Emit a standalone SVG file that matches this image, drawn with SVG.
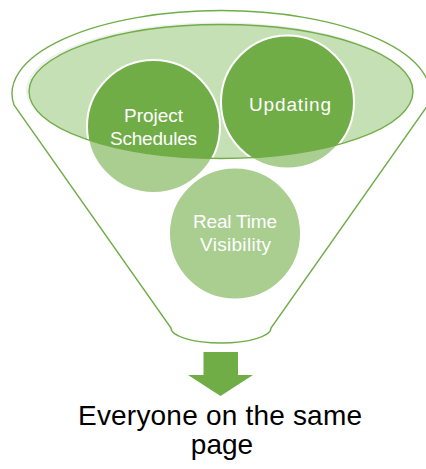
<svg xmlns="http://www.w3.org/2000/svg" width="426" height="469" viewBox="0 0 426 469">
  <style>
    .line { fill: none; stroke: #70ad47; stroke-width: 1.4; }
    .dark { fill: #70ad47; stroke: #ffffff; stroke-width: 2; }
    .lbl { font-family: "Liberation Sans", Arial, sans-serif; font-size: 19px; fill: #ffffff; text-anchor: middle; }
    .big { font-family: "Liberation Sans", Arial, sans-serif; font-size: 28px; fill: #000000; text-anchor: middle; }
  </style>
  <rect width="426" height="469" fill="#ffffff"/>

  <g id="funnel">
    <path d="M14,105 A209,83 0 1 1 428,105 L271,328 A50,15 0 0 1 171,328 Z" fill="#ffffff" stroke="none"/>
    <ellipse cx="219.5" cy="90.5" rx="192.5" ry="67" fill="none" stroke="#e4e4e4" stroke-width="2"/>
    <ellipse cx="221.5" cy="92.5" rx="192.5" ry="67" fill="none" stroke="#ffffff" stroke-width="2"/>
    <ellipse cx="221" cy="91.5" rx="192" ry="67" fill="#c5e0b4"/>
  </g>

  <g id="node-project-schedules">
    <circle class="dark" cx="153.5" cy="126.5" r="66.5"/>
  </g>
  <g id="node-updating">
    <circle class="dark" cx="287.5" cy="102" r="66.5"/>
  </g>
  <g id="node-real-time-visibility">
    <circle class="dark" cx="235" cy="233.5" r="66"/>
  </g>

  <g id="funnel-front">
    <path d="M14,105 A209,83 0 1 1 428,105 L271,328 A50,15 0 0 1 171,328 Z M29,91.5 A192,67 0 1 0 413,91.5 A192,67 0 1 0 29,91.5 Z" fill="#ffffff" fill-opacity="0.4" fill-rule="evenodd"/>
    <ellipse class="line" cx="221" cy="91.5" rx="192" ry="67"/>
    <path class="line" d="M14,105 A209,83 0 1 1 428,105 L271,328 A50,15 0 0 1 171,328 Z"/>
  </g>

  <g id="labels">
    <text class="lbl" x="153.5" y="121.5" textLength="59">Project</text>
    <text class="lbl" x="153.5" y="145" textLength="87">Schedules</text>
    <text class="lbl" x="290" y="111" textLength="82">Updating</text>
    <text class="lbl" x="235" y="227.5" textLength="84">Real Time</text>
    <text class="lbl" x="235.5" y="251" textLength="71">Visibility</text>
  </g>

  <g id="connectors">
    <path d="M203.5,352 L238,352 L238,375 L253,375 L220.5,396 L188,375 L203.5,375 Z" fill="#70ad47"/>
  </g>

  <g id="node-result">
    <text class="big" x="220" y="425" textLength="284">Everyone on the same</text>
    <text class="big" x="222" y="454">page</text>
  </g>
</svg>
